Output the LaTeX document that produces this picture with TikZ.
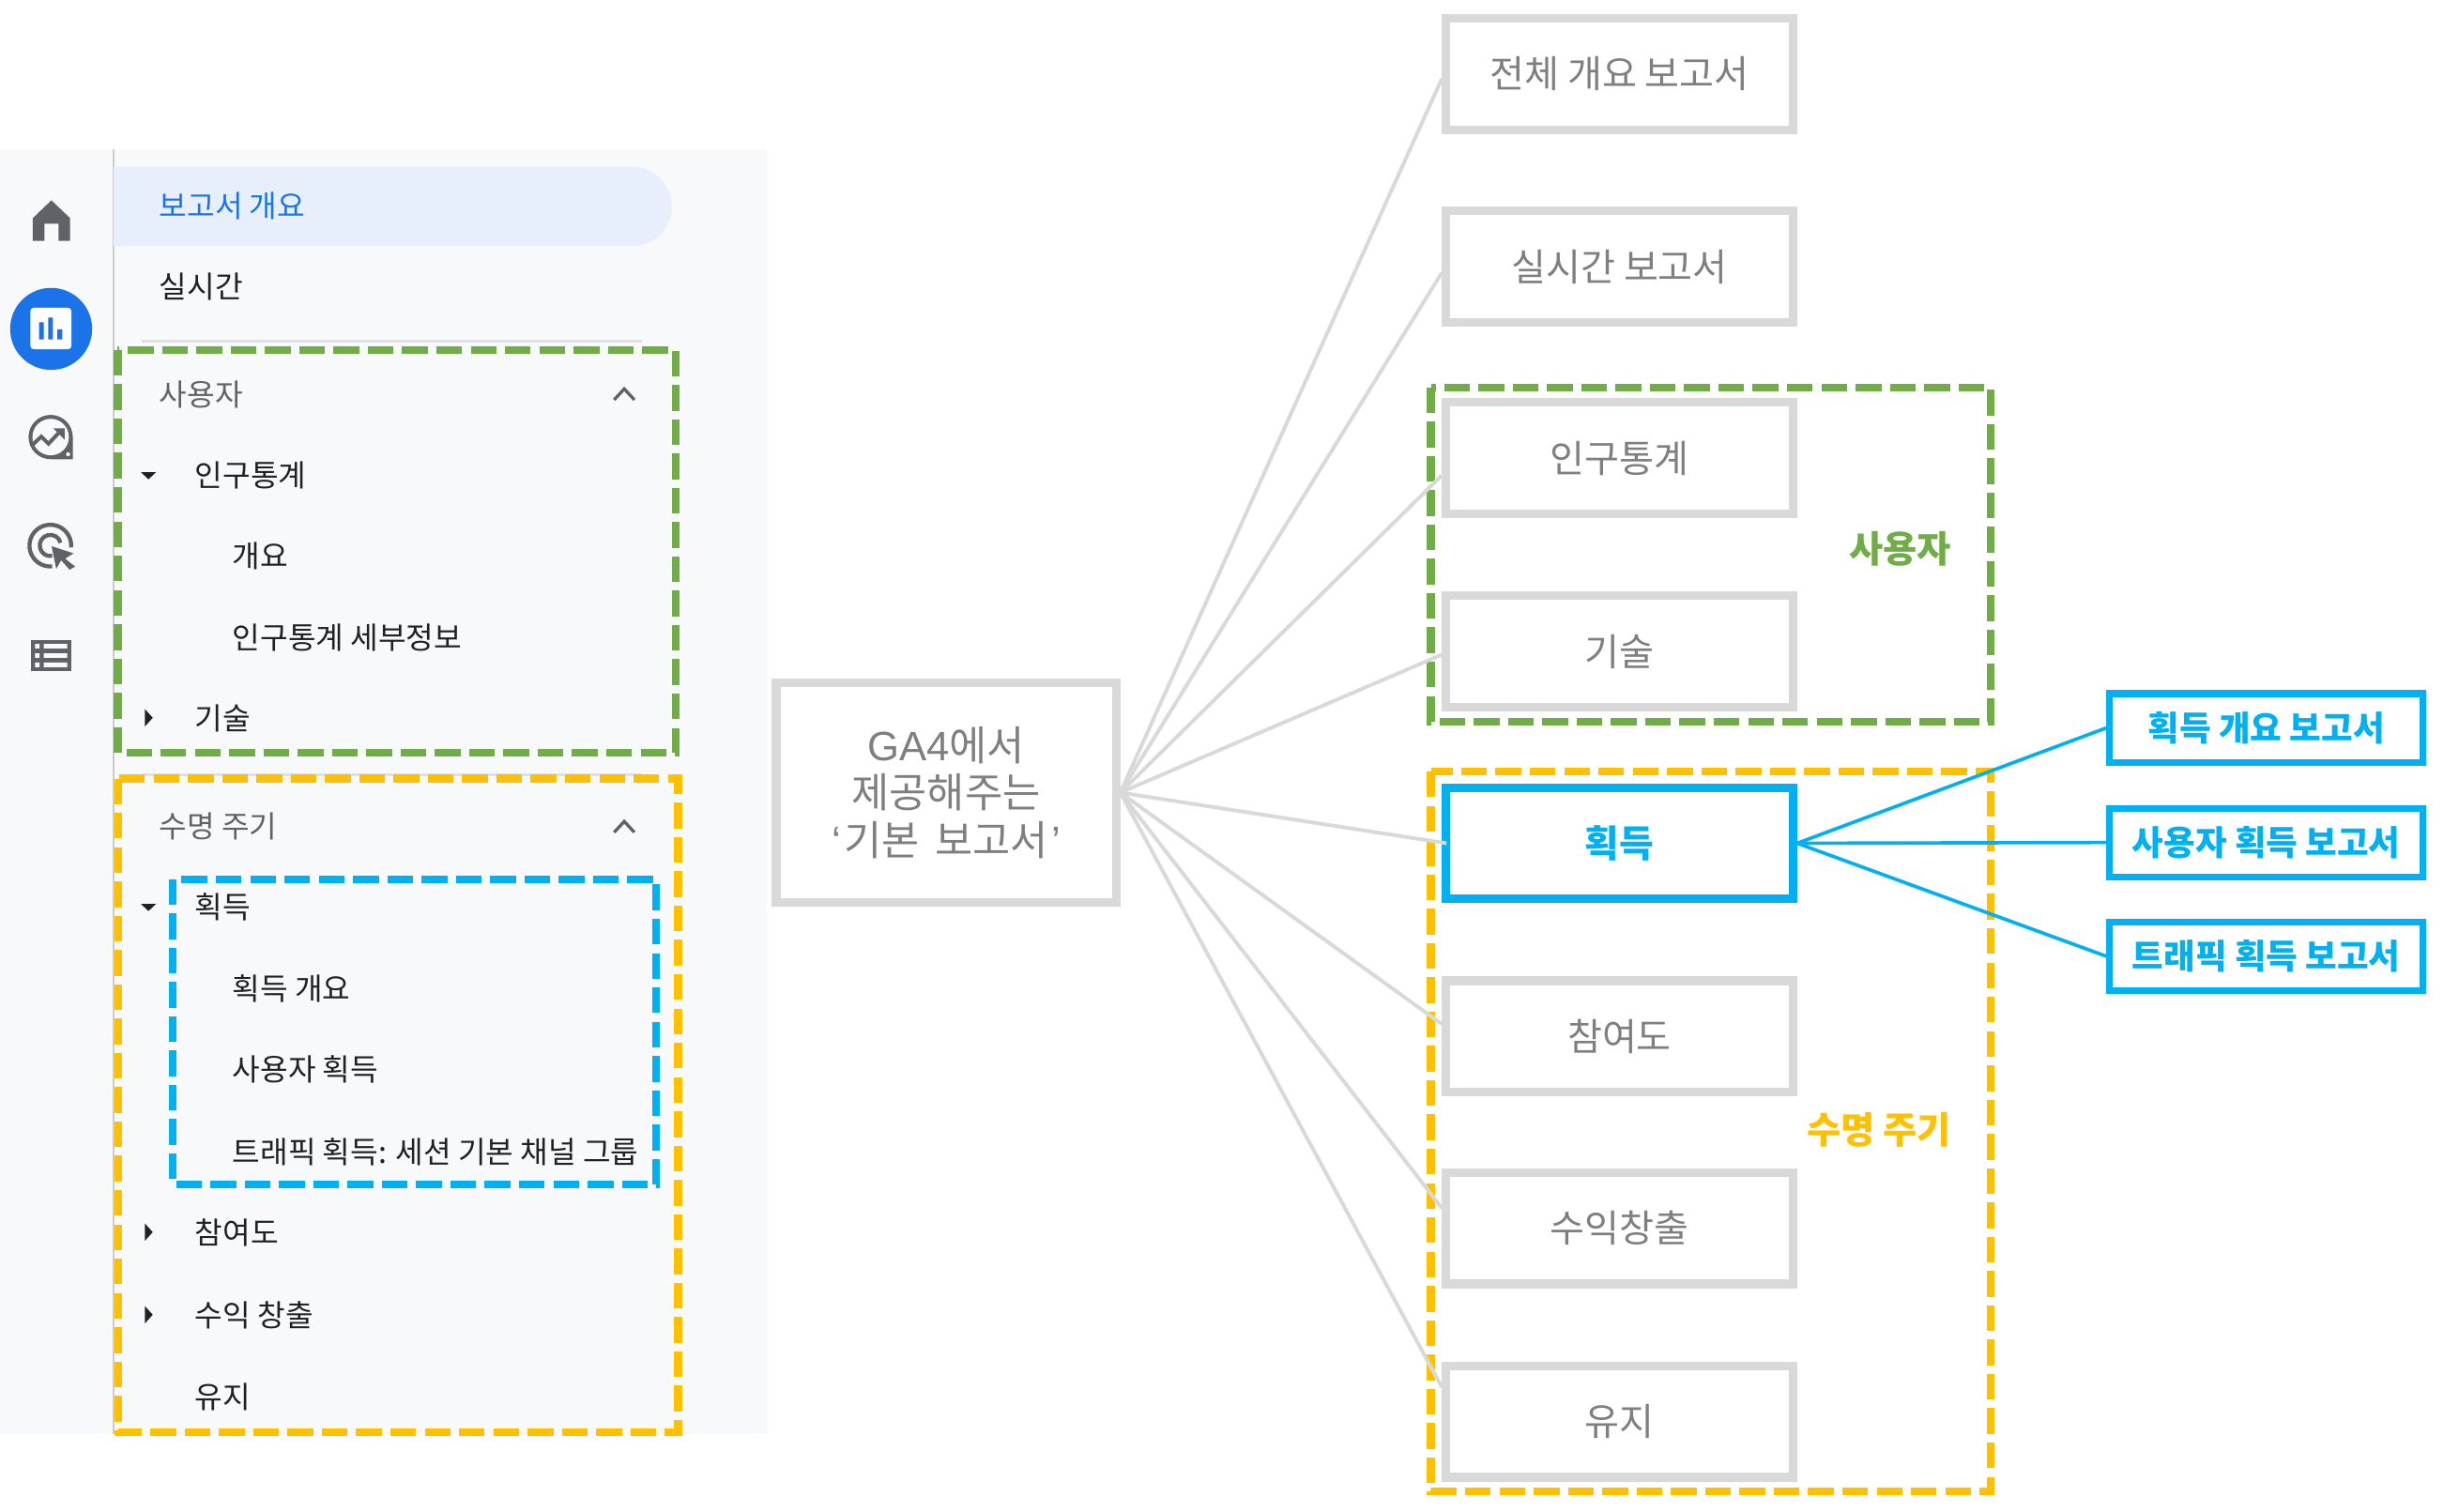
\documentclass[tikz,border=0pt]{standalone}
\usepackage{fontspec}
\setmainfont{Noto Sans CJK KR}
\newfontfamily\latn{Liberation Sans}
\usetikzlibrary{calc}
\definecolor{boxgray}{HTML}{D9D9D9}
\definecolor{txtgray}{HTML}{7F7F7F}
\definecolor{cblue}{HTML}{00B0F0}
\definecolor{cgreen}{HTML}{70AD47}
\definecolor{corange}{HTML}{FFC000}
\definecolor{gblue}{HTML}{1A73E8}
\definecolor{panel}{HTML}{F8F9FB}
\definecolor{hilite}{HTML}{E8EFFC}
\definecolor{icon}{HTML}{5F6368}
\definecolor{menutxt}{HTML}{202124}
\tikzset{
  x=1pt,y=-1pt,
  repbox/.style={draw=boxgray,line width=5.5pt,fill=white,minimum width=222.5pt,minimum height=71.5pt,inner sep=0pt,anchor=center,font=\fontsize{24.2}{28}\selectfont,text=txtgray},
  activebox/.style={repbox,draw=cblue,text=cblue,font=\fontsize{24}{28}\selectfont\bfseries},
  subbox/.style={draw=cblue,line width=4.3pt,fill=white,minimum width=201pt,minimum height=44pt,inner sep=0pt,anchor=center,font=\fontsize{22}{26}\selectfont\bfseries,text=cblue},
  link/.style={draw=boxgray,line width=2.4pt},
  sublink/.style={draw=cblue,line width=2.2pt},
  dashgroup/.style={line width=5pt,dash pattern=on 16.5pt off 5.5pt},
  menu/.style={anchor=west,inner sep=0pt,yshift=-1pt,font=\fontsize{19.4}{23}\selectfont,text=menutxt},
  menuhead/.style={menu,text=icon},
  grouplabel/.style={anchor=east,inner sep=0pt,font=\fontsize{23.7}{28}\selectfont\bfseries},
}
\begin{document}
\begin{tikzpicture}
\useasboundingbox (0,0) rectangle (1568,969.5);
% side panel
\fill[panel] (0,96) rectangle (492,920);
\draw[draw=black!20,line width=1pt] (73,96) -- (73,920);
\fill[hilite] (73,107) -- (405.5,107) arc[start angle=90,end angle=-90,radius=25.5pt] -- (73,158) -- cycle;
\draw[black!12,line width=1.5pt] (91,219) -- (412,219);
\draw[black!12,line width=1.5pt] (91,497) -- (412,497);
% icons
\fill[icon] (33,128.5) -- (45,140) -- (45,154.5) -- (37.5,154.5) -- (37.5,143.5) -- (28.5,143.5) -- (28.5,154.5) -- (21,154.5) -- (21,140) -- cycle;
\fill[gblue] (32.8,211) circle[radius=26.3pt];
\fill[white,rounded corners=2pt] (19.5,197.5) rectangle (45.8,224);
\fill[gblue] (25,206.8) rectangle (28,217.7) (31,203.7) rectangle (34,217.7) (36.8,211.2) rectangle (40,217.7);
% insights icon
\fill[icon] (46.7,280.4) -- (46.7,294.6) -- (32.5,294.6) arc[start angle=270,end angle=0,radius=14.2pt] -- cycle;
\fill[panel] (32.5,280.4) circle[radius=11.7pt];
\fill[panel] (43.7,291.4) circle[radius=1.3pt];
\draw[icon,line width=2.4pt] (21.1,285.1) -- (26.5,280.1) -- (31.1,284.7) -- (39.2,276.1);
\fill[icon] (34.1,274.8) -- (41.4,274.8) -- (41.4,282.1) -- cycle;
% target icon
\draw[icon,line width=2.6pt] (45.65,351.2) arc[start angle=-5,end angle=275,radius=13.4pt];
\draw[icon,line width=2.6pt] (38.87,348.2) arc[start angle=15,end angle=280,radius=6.8pt];
\fill[icon] (33.1,350.4) -- (47.2,355) -- (41.8,358.4) -- (48.2,363.5) -- (44.6,365.5) -- (39.2,359.4) -- (36.1,365) -- cycle;
% table icon
\fill[icon] (19.7,410.5) rectangle (45.8,430.6);
\fill[panel] (22.5,413.1) rectangle (25.3,416) (28.1,413.1) rectangle (43.2,416)
  (22.5,419.1) rectangle (25.3,422) (28.1,419.1) rectangle (43.2,422)
  (22.5,425) rectangle (25.3,428) (28.1,425) rectangle (43.2,428);
% menu text
\node[menu,text=gblue] (m1) at (102,131) {보고서 개요};
\node[menu] (m2) at (102,183) {실시간};
\node[menuhead] (m3) at (102,252) {사용자};
\node[menu] (m4) at (125,304) {인구통계};
\node[menu] (m5) at (149,356) {개요};
\node[menu] (m6) at (149,408) {인구통계 세부정보};
\node[menu] (m7) at (125,460) {기술};
\node[menuhead] (m8) at (102,529) {수명 주기};
\node[menu] (m9) at (125,581) {획득};
\node[menu] (m10) at (149,633) {획득 개요};
\node[menu] (m11) at (149,685) {사용자 획득};
\node[menu] (m12) at (149,738) {트래픽 획득: 세션 기본 채널 그룹};
\node[menu] (m13) at (125,790) {참여도};
\node[menu] (m14) at (125,843) {수익 창출};
\node[menu] (m15) at (125,895) {유지};
% chevrons, triangles
\draw[icon,line width=2pt] (394,256.5) -- (400.5,249.5) -- (407,256.5);
\draw[icon,line width=2pt] (394,534) -- (400.5,527) -- (407,534);
\fill[menutxt] (90.5,303) -- (100,303) -- (95.25,307.5) -- cycle;
\fill[menutxt] (90.5,580) -- (100,580) -- (95.25,584.5) -- cycle;
\fill[menutxt] (93,455) -- (98,460.5) -- (93,466) -- cycle;
\fill[menutxt] (93,785) -- (98,790.5) -- (93,796) -- cycle;
\fill[menutxt] (93,838) -- (98,843.5) -- (93,849) -- cycle;
% dashed groups over panel
\draw[dashgroup,cgreen] (75.5,224.5) rectangle (433.5,483);
\draw[dashgroup,corange] (76,499.5) rectangle (435,919);
\draw[dashgroup,cblue] (111,564) rectangle (421,760);
% right-hand groups
\draw[dashgroup,cgreen] (918,248.5) rectangle (1277,463);
\draw[dashgroup,corange] (918,495) rectangle (1277,957);
\node[grouplabel,text=cgreen] (gu) at (1252,352) {사용자};
\node[grouplabel,text=corange] (gl) at (1252,725) {수명 주기};
% nodes
\node[repbox] (b1) at (1039,47.5) {전체 개요 보고서};
\node[repbox] (b2) at (1039,171) {실시간 보고서};
\node[repbox] (b3) at (1039,294) {인구통계};
\node[repbox] (b4) at (1039,418) {기술};
\node[activebox] (b5) at (1039,541) {획득};
\node[repbox] (b6) at (1039,665) {참여도};
\node[repbox] (b7) at (1039,788) {수익창출};
\node[repbox] (b8) at (1039,912) {유지};
\node[draw=boxgray,line width=5.5pt,fill=white,minimum width=218pt,minimum height=141pt,inner sep=0pt,align=center,text=txtgray,font=\fontsize{26.3}{30.5}\selectfont] (c) at (607,508.5)
  {{\latn GA4}에서\\제공해주는\\{\latn ‘}\kern2pt 기본\kern4pt{} 보고서\kern2pt{\latn ’}};
\node[subbox] (s1) at (1454,467) {획득 개요 보고서};
\node[subbox] (s2) at (1454,540.5) {사용자 획득 보고서};
\node[subbox] (s3) at (1454,613.5) {트래픽 획득 보고서};
% connectors
\draw[link] (c.east) -- ([yshift=-3pt]b1.west);
\draw[link] (c.east) -- ([yshift=-4pt]b2.west);
\draw[link] (c.east) -- ([yshift=-11pt]b3.west);
\draw[link] (c.east) -- ([yshift=-2pt]b4.west);
\draw[link] (c.east) -- ([xshift=3pt]b5.west);
\draw[link] (c.east) -- ([yshift=8pt]b6.west);
\draw[link] (c.east) -- ([yshift=13pt]b7.west);
\draw[link] (c.east) -- ([yshift=22pt]b8.west);
\draw[sublink] (b5.east) -- (s1.west);
\draw[sublink] (b5.east) -- (s2.west);
\draw[sublink] (b5.east) -- (s3.west);
\end{tikzpicture}
\end{document}
